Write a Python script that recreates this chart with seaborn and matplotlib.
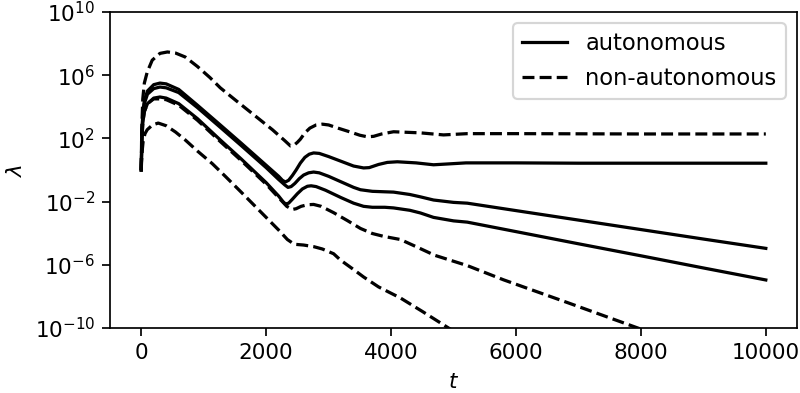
import numpy as np
import pandas as pd
import matplotlib
matplotlib.use("Agg")
import matplotlib.pyplot as plt
import matplotlib.ticker as ticker
import seaborn as sns

# values, stored as log10(lambda)
# autonomous runs
t_a1 = [0, 10, 25, 50, 100, 200, 300, 400, 600, 900, 1266, 1600, 2000, 2200, 2260, 2308, 2360, 2420, 2480, 2548,
        2620, 2690, 2760, 2850, 3000, 3200, 3400, 3560, 3650, 3800, 3940, 4100, 4400, 4680, 4900, 5200,
        6000, 7000, 8000, 9000, 10000]
lg_a1 = [0, 2.2, 3.6, 4.4, 5.0, 5.4, 5.5, 5.45, 5.1, 4.1, 2.85, 1.7, 0.3, -0.4, -0.65, -0.76, -0.65, -0.35, 0.0, 0.44,
         0.8, 1.0, 1.08, 1.05, 0.85, 0.55, 0.25, 0.13, 0.15, 0.35, 0.48, 0.52, 0.45, 0.33, 0.38, 0.45,
         0.45, 0.43, 0.43, 0.43, 0.43]

t_a2 = [0, 10, 25, 50, 100, 200, 300, 400, 600, 900, 1266, 1600, 2000, 2200, 2300, 2350, 2400, 2460, 2530, 2600,
        2680, 2760, 2850, 3000, 3200, 3400, 3510, 3700, 3900, 4040, 4300, 4470, 4680, 5000, 5220,
        6000, 7000, 8000, 9000, 10000]
lg_a2 = [0, 2.0, 3.4, 4.2, 4.8, 5.15, 5.25, 5.2, 4.9, 3.95, 2.7, 1.55, 0.15, -0.6, -0.95, -1.1, -1.05, -0.85, -0.55, -0.32,
         -0.18, -0.13, -0.18, -0.4, -0.75, -1.1, -1.25, -1.35, -1.38, -1.4, -1.55, -1.7, -1.9, -2.05, -2.1,
         -2.57, -3.17, -3.77, -4.37, -4.96]

t_a3 = [0, 10, 25, 50, 100, 200, 300, 400, 600, 900, 1266, 1600, 2000, 2200, 2270, 2310, 2360, 2420, 2500, 2580,
        2660, 2720, 2800, 2950, 3200, 3400, 3560, 3700, 3900, 4040, 4300, 4470, 4680, 5000, 5220,
        6000, 7000, 8000, 9000, 10000]
lg_a3 = [0, 1.8, 3.0, 3.7, 4.2, 4.55, 4.62, 4.55, 4.2, 3.25, 1.9, 0.7, -0.8, -1.65, -2.0, -2.15, -2.1, -1.85, -1.5, -1.2,
         -1.03, -1.0, -1.05, -1.28, -1.75, -2.1, -2.3, -2.36, -2.36, -2.4, -2.55, -2.72, -3.0, -3.22, -3.3,
         -3.9, -4.67, -5.43, -6.2, -6.96]

# non-autonomous runs
t_n1 = [0, 8, 25, 50, 96, 176, 300, 420, 550, 705, 900, 1100, 1266, 1500, 1800, 2100, 2300, 2390, 2440, 2500,
        2548, 2620, 2700, 2800, 2900, 3000, 3150, 3350, 3500, 3620, 3720, 3850, 4040, 4470, 4840, 5220,
        6000, 7000, 8000, 9000, 10000]
lg_n1 = [0, 2.5, 4.5, 5.5, 6.2, 6.95, 7.38, 7.47, 7.4, 7.15, 6.55, 5.85, 5.2, 4.45, 3.5, 2.55, 1.85, 1.52, 1.55, 1.75,
         1.95, 2.35, 2.65, 2.85, 2.9, 2.85, 2.65, 2.4, 2.2, 2.1, 2.13, 2.28, 2.42, 2.35, 2.22, 2.3,
         2.3, 2.29, 2.28, 2.28, 2.28]

t_n2 = [0, 10, 25, 50, 100, 200, 300, 400, 600, 900, 1266, 1600, 2000, 2200, 2330, 2420, 2480, 2560, 2660, 2760,
        2880, 3080, 3300, 3510, 3700, 3880, 4150, 4400, 4700, 5220, 5800, 6830, 7950, 10000]
lg_n2 = [0, 1.8, 3.0, 3.7, 4.2, 4.5, 4.5, 4.45, 4.1, 3.15, 1.8, 0.6, -0.9, -1.75, -2.3, -2.5, -2.45, -2.3, -2.2, -2.18,
         -2.3, -2.7, -3.2, -3.7, -4.02, -4.2, -4.4, -4.85, -5.4, -6.05, -6.95, -8.4, -10.0, -13.0]

t_n3 = [0, 10, 30, 60, 96, 180, 272, 400, 550, 705, 900, 1138, 1346, 1600, 1900, 2200, 2340, 2450, 2600, 2760,
        2900, 3080, 3190, 3400, 3560, 3800, 4150, 4500, 4920, 10000]
lg_n3 = [0, 1.0, 1.8, 2.3, 2.55, 2.85, 2.97, 2.8, 2.4, 1.9, 1.2, 0.4, -0.4, -1.4, -2.6, -3.8, -4.4, -4.7, -4.75, -4.85,
         -5.0, -5.3, -5.7, -6.3, -6.77, -7.4, -8.1, -8.95, -10.0, -22.2]

curves = [
    ("a1", "autonomous", t_a1, lg_a1),
    ("a2", "autonomous", t_a2, lg_a2),
    ("a3", "autonomous", t_a3, lg_a3),
    ("n1", "non-autonomous", t_n1, lg_n1),
    ("n2", "non-autonomous", t_n2, lg_n2),
    ("n3", "non-autonomous", t_n3, lg_n3),
]

frames = []
for name, kind, t, lg in curves:
    frames.append(pd.DataFrame({"t": t, "lam": 10.0 ** np.array(lg), "curve": name, "kind": kind}))
df = pd.concat(frames, ignore_index=True)

dpi = 155
fig = plt.figure(figsize=(800 / dpi, 393 / dpi), dpi=dpi)
ax = fig.add_axes([0.1375, 0.1654, 0.8588, 0.8041])

sns.lineplot(data=df, x="t", y="lam", style="kind", units="curve", estimator=None, sort=False,
             color="black", linewidth=1.5,
             dashes={"autonomous": "", "non-autonomous": (3.7, 1.6)}, ax=ax)

ax.set_yscale("log")
ax.set_ylim(1e-10, 1e10)
ax.set_yticks([1e-10, 1e-6, 1e-2, 1e2, 1e6, 1e10])
ax.yaxis.set_minor_locator(ticker.NullLocator())
ax.set_xlim(-500, 10500)
ax.set_xticks([0, 2000, 4000, 6000, 8000, 10000])
ax.set_xlabel("$t$")
ax.set_ylabel(r"$\lambda$")

handles, labels = ax.get_legend_handles_labels()
keep = [(h, l) for h, l in zip(handles, labels) if l in ("autonomous", "non-autonomous")]
ax.legend([h for h, l in keep], [l for h, l in keep], loc="upper right", fontsize=10.5)

fig.savefig("out.png", dpi=dpi)
